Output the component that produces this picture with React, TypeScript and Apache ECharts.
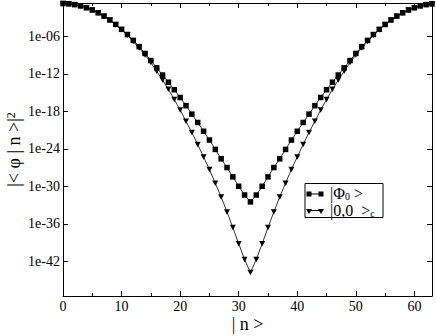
import React, { useEffect, useRef } from 'react';
import * as echarts from 'echarts';

// |n> basis states
const nStates = [
  0, 1, 2, 3, 4, 5, 6, 7, 8, 9, 10, 11, 12, 13, 14, 15, 16, 17, 18, 19, 20, 21, 22, 23, 24, 25, 26, 27, 28, 29, 30, 31,
  32, 33, 34, 35, 36, 37, 38, 39, 40, 41, 42, 43, 44, 45, 46, 47, 48, 49, 50, 51, 52, 53, 54, 55, 56, 57, 58, 59, 60, 61, 62, 63,
];

// |<phi|n>|^2 for |Phi_0>
const phi0Values = [
  1.7e-1, 1.5e-1, 1.15e-1, 7.1e-2, 3.6e-2, 1.6e-2, 5.6e-3, 1.7e-3, 4.0e-4, 7.9e-5, 1.3e-5, 1.9e-6, 2.2e-7, 2.2e-8, 1.8e-9, 1.3e-10,
  8.9e-12, 6.3e-13, 4.5e-14, 2.8e-15, 1.6e-16, 7.9e-18, 3.5e-19, 1.6e-20, 6.3e-22, 2.5e-23, 7.9e-25, 2.5e-26, 1.0e-27, 3.2e-29, 1.0e-30, 4.0e-32,
  3.2e-33, 4.0e-32, 1.0e-30, 3.2e-29, 1.0e-27, 2.5e-26, 7.9e-25, 2.5e-23, 6.3e-22, 1.6e-20, 3.5e-19, 7.9e-18, 1.6e-16, 2.8e-15, 4.5e-14, 6.3e-13,
  8.9e-12, 1.3e-10, 1.8e-9, 2.2e-8, 2.2e-7, 1.9e-6, 1.3e-5, 7.9e-5, 4.0e-4, 1.7e-3, 5.6e-3, 1.6e-2, 3.6e-2, 7.1e-2, 1.15e-1, 1.5e-1,
];

// |<phi|n>|^2 for |0,0>_c
const cohValues = [
  1.7e-1, 1.55e-1, 1.15e-1, 7.1e-2, 3.6e-2, 1.5e-2, 5.2e-3, 1.5e-3, 3.5e-4, 6.8e-5, 1.1e-5, 1.4e-6, 1.5e-7, 1.3e-8, 1.0e-9, 6.3e-11,
  2.5e-12, 1.0e-13, 3.2e-15, 7.9e-17, 1.6e-18, 2.5e-20, 4.0e-22, 5.0e-24, 5.0e-26, 5.0e-28, 3.2e-30, 2.0e-32, 7.9e-35, 2.5e-37, 6.3e-40, 2.0e-42,
  1.6e-44, 2.0e-42, 6.3e-40, 2.5e-37, 7.9e-35, 2.0e-32, 3.2e-30, 5.0e-28, 5.0e-26, 5.0e-24, 4.0e-22, 2.5e-20, 1.6e-18, 7.9e-17, 3.2e-15, 1.0e-13,
  2.5e-12, 6.3e-11, 1.0e-9, 1.3e-8, 1.5e-7, 1.4e-6, 1.1e-5, 6.8e-5, 3.5e-4, 1.5e-3, 5.2e-3, 1.5e-2, 3.6e-2, 7.1e-2, 1.15e-1, 1.55e-1,
];

const seriesNames = ['| Φ0 >', '| 0,0 >c'];
const legendLabels = ['|Φ{sub|0} >', '|0,0  >{sub|c}'];

const xMajorTicks = [0, 10, 20, 30, 40, 50, 60];
const xMinorTicks = [5, 15, 25, 35, 45, 55];
const yTicks = [1e-42, 1e-36, 1e-30, 1e-24, 1e-18, 1e-12, 1e-6];

const Y_MIN = 2.8e-48;
const Y_MAX = 0.21;

const serif = 'Liberation Serif';
const black = '#000';

function yFmt(v: number) {
  const e = Math.round(Math.log10(v));
  const a = Math.abs(e);
  return '1e' + (e < 0 ? '-' : '+') + (a < 10 ? '0' + a : String(a));
}

function xAxisDef(position: 'top' | 'bottom', ticks: number[], len: number, showLine: boolean, showLabel: boolean, name?: string) {
  return {
    type: 'value',
    position,
    min: 0,
    max: 63,
    name: name,
    nameLocation: 'middle',
    nameGap: 19,
    nameMoveOverlap: false,
    nameTextStyle: { fontFamily: serif, fontSize: 18, color: black },
    axisLine: { show: showLine, onZero: false, lineStyle: { color: black, width: 1 } },
    axisTick: { show: true, inside: true, length: len, customValues: ticks, lineStyle: { color: black, width: 1 } },
    axisLabel: {
      show: showLabel,
      customValues: xMajorTicks,
      fontFamily: serif,
      fontSize: 14,
      color: black,
      margin: 3,
    },
    splitLine: { show: false },
    minorTick: { show: false },
  };
}

function yAxisDef(position: 'left' | 'right', showLabel: boolean, name?: string) {
  return {
    type: 'log',
    logBase: 10,
    position,
    min: Y_MIN,
    max: Y_MAX,
    name: name,
    nameLocation: 'middle',
    nameRotate: 90,
    nameGap: 40,
    nameMoveOverlap: false,
    nameTextStyle: {
      fontFamily: serif,
      fontSize: 18,
      color: black,
      rich: {
        sup: { fontFamily: serif, fontSize: 12, color: black, verticalAlign: 'top', lineHeight: 12, padding: [0, 0, 4, 0] },
      },
    },
    axisLine: { show: true, onZero: false, lineStyle: { color: black, width: 1 } },
    axisTick: { show: true, inside: true, length: 5, customValues: yTicks, lineStyle: { color: black, width: 1 } },
    axisLabel: {
      show: showLabel,
      customValues: yTicks,
      formatter: (v: number) => yFmt(v),
      fontFamily: serif,
      fontSize: 14,
      color: black,
      margin: 3,
    },
    splitLine: { show: false },
    minorTick: { show: false },
    minorSplitLine: { show: false },
  };
}

export default function App() {
  const ref = useRef<HTMLDivElement>(null);
  useEffect(() => {
    if (!ref.current) return;
    const chart = echarts.init(ref.current, undefined, { renderer: 'svg' });

    // hand-drawn legend box (symbol-line-symbol like the original)
    const lx = 305;
    const ly = 183.5;
    const rows = [194, 211.5];
    const legendGraphic: any[] = [
      { type: 'rect', shape: { x: lx, y: ly, width: 78, height: 34 }, style: { fill: '#fff', stroke: black, lineWidth: 1 }, z: 100 },
      // row 1: squares
      { type: 'line', shape: { x1: 309, y1: rows[0], x2: 321, y2: rows[0] }, style: { stroke: black, lineWidth: 1 }, z: 101 },
      { type: 'rect', shape: { x: 306.5, y: rows[0] - 2.5, width: 5, height: 5 }, style: { fill: black }, z: 101 },
      { type: 'rect', shape: { x: 318.5, y: rows[0] - 2.5, width: 5, height: 5 }, style: { fill: black }, z: 101 },
      // row 2: down triangles
      { type: 'line', shape: { x1: 309, y1: rows[1] - 1, x2: 321, y2: rows[1] - 1 }, style: { stroke: black, lineWidth: 1 }, z: 101 },
      { type: 'polygon', shape: { points: [[306, rows[1] - 2.5], [312, rows[1] - 2.5], [309, rows[1] + 2.5]] }, style: { fill: black }, z: 101 },
      { type: 'polygon', shape: { points: [[318, rows[1] - 2.5], [324, rows[1] - 2.5], [321, rows[1] + 2.5]] }, style: { fill: black }, z: 101 },
    ];
    legendLabels.forEach((txt, i) => {
      legendGraphic.push({
        type: 'text',
        x: 330,
        y: rows[i] - 1,
        z: 102,
        style: {
          text: txt,
          fontFamily: serif,
          fontSize: 16,
          fill: black,
          verticalAlign: 'middle',
          align: 'left',
          rich: {
            sub: { fontFamily: serif, fontSize: 10, fill: black, verticalAlign: 'bottom', lineHeight: 10, padding: [7, 0, 0, 0] },
          },
        },
      });
    });

    const option = {
      animation: false,
      backgroundColor: '#fff',
      grid: { left: 63, right: 4, top: 3, bottom: 40, containLabel: false, outerBoundsMode: 'none' },
      xAxis: [
        xAxisDef('bottom', xMajorTicks, 5, true, true, '| n >'),
        xAxisDef('bottom', xMinorTicks, 3, false, false),
        xAxisDef('top', xMajorTicks, 5, true, false),
        xAxisDef('top', xMinorTicks, 3, false, false),
      ],
      yAxis: [yAxisDef('left', true, '|< φ | n >|{sup|2}'), yAxisDef('right', false)],
      graphic: legendGraphic,
      series: [
        {
          type: 'line',
          name: seriesNames[0],
          xAxisIndex: 0,
          yAxisIndex: 0,
          data: nStates.map((n, i) => [n, phi0Values[i]]),
          symbol: 'rect',
          symbolSize: 5.5,
          showSymbol: true,
          clip: false,
          lineStyle: { color: black, width: 0.8 },
          itemStyle: { color: black },
          emphasis: { disabled: true },
        },
        {
          type: 'line',
          name: seriesNames[1],
          xAxisIndex: 0,
          yAxisIndex: 0,
          data: nStates.map((n, i) => [n, cohValues[i]]),
          symbol: 'triangle',
          symbolRotate: 180,
          symbolSize: [6, 5.5],
          showSymbol: true,
          clip: false,
          lineStyle: { color: black, width: 0.8 },
          itemStyle: { color: black },
          emphasis: { disabled: true },
        },
      ],
    };
    chart.setOption(option as any);
    return () => chart.dispose();
  }, []);
  return <div ref={ref} style={{ width: 436, height: 336, position: 'absolute', left: 0, top: 0 }} />;
}
